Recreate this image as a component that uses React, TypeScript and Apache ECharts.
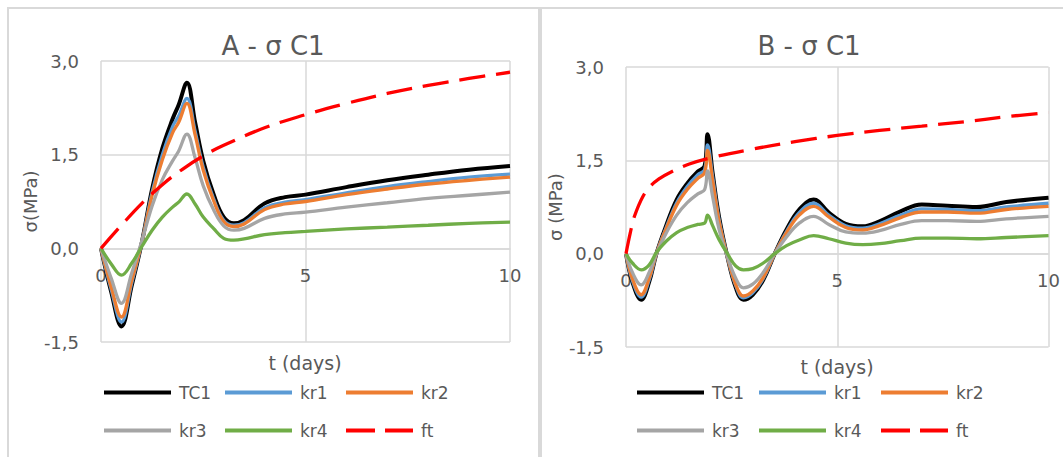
import React, { useEffect, useRef } from "react";
import * as echarts from "echarts";

// ---------- Data ----------
const seriesNames = ["TC1", "kr1", "kr2", "kr3", "kr4", "ft"];
const seriesColors = ["#000000", "#5B9BD5", "#ED7D31", "#A5A5A5", "#70AD47", "#FF0000"];

const yTicks = [-1.5, 0, 1.5, 3.0];
const xTicks = [0, 5, 10];

// Panel A
const tA = [0, 0.25, 0.5, 0.75, 1.0, 1.25, 1.5, 1.75, 1.9, 2.1, 2.3, 2.5, 2.75, 3.0, 3.25, 3.5, 4.0, 4.5, 5, 6, 7, 8, 9, 10];
const tc1A = [0, -0.7, -1.25, -0.6, 0.1, 0.95, 1.6, 2.07, 2.3, 2.65, 2.02, 1.4, 0.87, 0.5, 0.4, 0.45, 0.72, 0.82, 0.86, 0.98, 1.09, 1.18, 1.26, 1.32];
const kr1A = [0, -0.66, -1.18, -0.56, 0.1, 0.9, 1.5, 1.95, 2.12, 2.4, 1.88, 1.3, 0.8, 0.45, 0.37, 0.41, 0.65, 0.74, 0.78, 0.89, 0.99, 1.07, 1.14, 1.19];
const kr2A = [0, -0.62, -1.1, -0.52, 0.1, 0.85, 1.42, 1.85, 2.02, 2.32, 1.82, 1.25, 0.77, 0.43, 0.35, 0.39, 0.62, 0.71, 0.75, 0.86, 0.95, 1.03, 1.09, 1.14];
const kr3A = [0, -0.48, -0.88, -0.4, 0.12, 0.68, 1.1, 1.4, 1.56, 1.83, 1.45, 1.0, 0.62, 0.36, 0.29, 0.32, 0.48, 0.55, 0.58, 0.66, 0.73, 0.8, 0.85, 0.9];
const kr4A = [0, -0.25, -0.43, -0.24, 0.03, 0.29, 0.5, 0.66, 0.74, 0.87, 0.71, 0.5, 0.32, 0.16, 0.13, 0.15, 0.22, 0.25, 0.27, 0.31, 0.34, 0.37, 0.4, 0.42];
const ftTA = [0, 0.5, 1, 1.5, 2, 2.5, 3, 4, 5, 6, 7, 8, 9, 10];
const ftA = [0, 0.37, 0.72, 1.02, 1.27, 1.48, 1.65, 1.93, 2.14, 2.32, 2.48, 2.61, 2.72, 2.82];

// Panel B
const tB = [0, 0.15, 0.36, 0.55, 0.72, 0.95, 1.2, 1.45, 1.7, 1.86, 1.93, 2.05, 2.2, 2.4, 2.6, 2.78, 3.0, 3.25, 3.52, 3.8, 4.1, 4.44, 4.8, 5.2, 5.6, 6.0, 6.5, 7.0, 7.6, 8.3, 9.0, 10];
const tc1B = [0, -0.45, -0.74, -0.45, 0, 0.45, 0.87, 1.13, 1.32, 1.41, 1.92, 1.3, 0.6, -0.05, -0.55, -0.74, -0.66, -0.42, 0, 0.39, 0.71, 0.87, 0.66, 0.48, 0.44, 0.52, 0.68, 0.79, 0.77, 0.75, 0.83, 0.9];
const kr1B = [0, -0.43, -0.7, -0.42, 0, 0.42, 0.82, 1.08, 1.27, 1.35, 1.75, 1.24, 0.56, -0.05, -0.52, -0.71, -0.63, -0.4, 0, 0.36, 0.66, 0.81, 0.62, 0.45, 0.41, 0.48, 0.62, 0.72, 0.71, 0.69, 0.75, 0.81];
const kr2B = [0, -0.4, -0.66, -0.39, 0, 0.4, 0.78, 1.03, 1.21, 1.3, 1.66, 1.18, 0.53, -0.05, -0.5, -0.68, -0.6, -0.38, 0, 0.34, 0.62, 0.76, 0.59, 0.42, 0.38, 0.45, 0.58, 0.67, 0.67, 0.65, 0.71, 0.76];
const kr3B = [0, -0.3, -0.5, -0.3, 0, 0.33, 0.62, 0.82, 0.96, 1.03, 1.33, 0.92, 0.4, -0.05, -0.4, -0.55, -0.49, -0.3, 0, 0.27, 0.49, 0.6, 0.47, 0.35, 0.33, 0.37, 0.47, 0.53, 0.53, 0.52, 0.56, 0.6];
const kr4B = [0, -0.15, -0.26, -0.18, 0.02, 0.2, 0.34, 0.42, 0.47, 0.49, 0.62, 0.45, 0.23, 0, -0.2, -0.26, -0.24, -0.15, 0, 0.13, 0.22, 0.29, 0.24, 0.17, 0.145, 0.16, 0.21, 0.25, 0.25, 0.24, 0.26, 0.29];
const ftTB = [0, 0.1, 0.2, 0.4, 0.6, 0.8, 1.0, 1.5, 2, 3, 4, 5, 6, 7, 8, 9, 10];
const ftB = [0, 0.33, 0.6, 0.92, 1.1, 1.21, 1.29, 1.44, 1.54, 1.68, 1.8, 1.9, 1.98, 2.05, 2.12, 2.2, 2.27];

const titles = ["A - σ C1", "B - σ C1"];
const yNames = ["σ(MPa)", "σ (MPa)"];
const xName = "t (days)";

// ---------- Layout ----------
const FONT = "DejaVu Sans";
const TXT = "#595959";
const GRIDC = "#d9d9d9";

const grids = [
  { left: 101, top: 61, width: 409, height: 281 },
  { left: 626, top: 67, width: 423, height: 280 },
];
const titlePos = [
  { x: 273, y: 48 },
  { x: 809, y: 48 },
];
const xNamePos = [
  { x: 305, y: 363 },
  { x: 837, y: 367 },
];
const legendCols = [
  [102, 223, 344],
  [635, 757, 879],
];
const legendRows = [393, 431];

const pair = (t: number[], v: number[]) => t.map((x, i) => [x, v[i]]);

export default function App() {
  const ref = useRef<HTMLDivElement>(null);
  useEffect(() => {
    document.body.style.margin = "0";
    if (!ref.current) return;
    const chart = echarts.init(ref.current, undefined, { renderer: "svg" });

    const panelData = [
      [pair(tA, tc1A), pair(tA, kr1A), pair(tA, kr2A), pair(tA, kr3A), pair(tA, kr4A), pair(ftTA, ftA)],
      [pair(tB, tc1B), pair(tB, kr1B), pair(tB, kr2B), pair(tB, kr3B), pair(tB, kr4B), pair(ftTB, ftB)],
    ];

    const series: any[] = [];
    panelData.forEach((arr, p) => {
      arr.forEach((d, i) => {
        series.push({
          type: "line",
          name: seriesNames[i],
          xAxisIndex: p,
          yAxisIndex: p,
          data: d,
          smooth: 0.4,
          symbol: "none",
          showSymbol: false,
          lineStyle: {
            color: seriesColors[i],
            width: i === 0 ? 4 : 3.3,
            type: i === 5 ? [26, 11] : "solid",
            cap: "butt",
          },
          itemStyle: { color: seriesColors[i] },
          z: 2 + i,
        });
      });
    });

    const legends: any[] = [];
    [0, 1].forEach((p) => {
      seriesNames.forEach((n, i) => {
        legends.push({
          data: [n],
          left: legendCols[p][i % 3],
          top: legendRows[Math.floor(i / 3)] - 9,
          itemWidth: 67,
          itemHeight: 14,
          itemGap: 0,
          padding: 0,
          itemStyle: { opacity: 0, borderWidth: 0 },
          lineStyle: { width: 4, type: i === 5 ? [29, 10] : "solid", cap: "butt" },
          textStyle: { fontFamily: FONT, fontSize: 17, color: TXT, padding: [0, 0, 0, 3] },
          selectedMode: false,
        });
      });
    });

    const fmt = (v: number) => v.toFixed(1).replace(".", ",");

    const option: any = {
      animation: false,
      backgroundColor: "#ffffff",
      title: titles.map((t, p) => ({
        text: t,
        left: titlePos[p].x,
        top: titlePos[p].y - 15,
        textAlign: "center",
        padding: 0,
        textStyle: { fontFamily: FONT, fontSize: 26, fontWeight: "normal", color: TXT },
      })),
      legend: legends,
      grid: grids.map((g) => ({ ...g, containLabel: false })),
      xAxis: [0, 1].map((p) => ({
        type: "value",
        gridIndex: p,
        position: "bottom",
        offset: -grids[p].height * (0 - yTicks[0]) / (yTicks[yTicks.length - 1] - yTicks[0]),
        min: xTicks[0],
        max: xTicks[xTicks.length - 1],
        interval: 5,
        axisLine: { show: true, onZero: false, lineStyle: { color: GRIDC, width: 1.5 } },
        axisTick: { show: false },
        splitLine: { show: true, lineStyle: { color: GRIDC, width: 1.5 } },
        axisLabel: { fontFamily: FONT, fontSize: 18, color: TXT, margin: 18, showMinLabel: true, showMaxLabel: true },
      })),
      yAxis: [0, 1].map((p) => ({
        type: "value",
        gridIndex: p,
        min: yTicks[0],
        max: yTicks[yTicks.length - 1],
        interval: 1.5,
        name: yNames[p],
        nameLocation: "middle",
        nameGap: 52,
        nameTextStyle: { fontFamily: FONT, fontSize: 18, color: TXT },
        axisLine: { show: false },
        axisTick: { show: false },
        splitLine: { show: true, lineStyle: { color: GRIDC, width: 1.5 } },
        axisLabel: { fontFamily: FONT, fontSize: 18, color: TXT, margin: 22, formatter: fmt },
      })),
      graphic: [
        { type: "rect", shape: { x: 7, y: 7, width: 1100, height: 2 }, style: { fill: GRIDC }, silent: true },
        { type: "rect", shape: { x: 7, y: 7, width: 2, height: 460 }, style: { fill: GRIDC }, silent: true },
        { type: "rect", shape: { x: 538, y: 7, width: 4, height: 460 }, style: { fill: GRIDC }, silent: true },
        ...xNamePos.map((pp) => ({
          type: "text",
          x: pp.x,
          y: pp.y,
          silent: true,
          style: {
            text: xName,
            fontFamily: FONT,
            fontSize: 19,
            fill: TXT,
            align: "center",
            verticalAlign: "middle",
          },
        })),
      ],
      series,
    };
    chart.setOption(option);
    return () => chart.dispose();
  }, []);
  return <div ref={ref} style={{ width: 1063, height: 457 }} />;
}
